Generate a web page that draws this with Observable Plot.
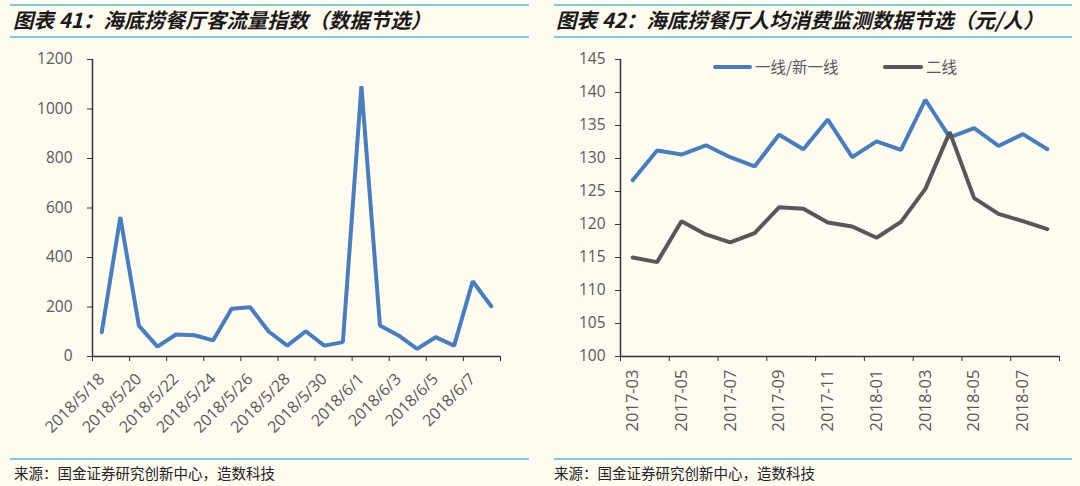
<!DOCTYPE html>
<html>
<head>
<meta charset="utf-8">
<script src="https://cdn.jsdelivr.net/npm/d3@7"></script>
<script src="https://cdn.jsdelivr.net/npm/@observablehq/plot@0.6"></script>
<style>
  html, body { margin: 0; padding: 0; background: #fffbf1; }
  #wrap { position: relative; width: 1080px; height: 486px; background: #fffbf1; overflow: hidden; font-family: "Noto Sans CJK SC", sans-serif; }
  .rule { position: absolute; height: 2px; background: #86c4d8; }
  .title { position: absolute; font-size: 20.5px; font-weight: bold; font-style: italic; color: #1a1a1a; white-space: nowrap; line-height: 1; }
  .src { position: absolute; font-size: 14.5px; color: #222; white-space: nowrap; line-height: 1; }
  .plot { position: absolute; top: 40px; }
  .leg { position: absolute; font-size: 15.5px; color: #595959; white-space: nowrap; line-height: 1; }
  .legline { position: absolute; height: 4px; border-radius: 2px; }
</style>
</head>
<body>
<div id="wrap">
  <div class="rule" style="left:10px;width:519px;top:4px"></div>
  <div class="rule" style="left:10px;width:519px;top:36px"></div>
  <div class="title" style="left:13px;top:9px">图表 41：海底捞餐厅客流量指数（数据节选）</div>
  <div class="rule" style="left:554px;width:518px;top:4px"></div>
  <div class="rule" style="left:554px;width:518px;top:36px"></div>
  <div class="title" style="left:556px;top:9px">图表 42：海底捞餐厅人均消费监测数据节选（元/人）</div>
  <div id="p1" class="plot" style="left:0px"></div>
  <div id="p2" class="plot" style="left:540px"></div>
  <div class="legline" style="left:713px;width:39px;top:65px;background:#4a7ebb"></div>
  <div class="leg" style="left:755px;top:59px">一线/新一线</div>
  <div class="legline" style="left:883px;width:40px;top:65px;background:#575757"></div>
  <div class="leg" style="left:926px;top:59px">二线</div>
  <div class="rule" style="left:10px;width:519px;top:458px"></div>
  <div class="src" style="left:14px;top:466px">来源：国金证券研究创新中心，造数科技</div>
  <div class="rule" style="left:554px;width:518px;top:458px"></div>
  <div class="src" style="left:554px;top:466px">来源：国金证券研究创新中心，造数科技</div>
</div>
<script>
// ---- Data: left chart (客流量指数) ----
const dates = ["2018/5/18","2018/5/19","2018/5/20","2018/5/21","2018/5/22","2018/5/23","2018/5/24","2018/5/25","2018/5/26","2018/5/27","2018/5/28","2018/5/29","2018/5/30","2018/5/31","2018/6/1","2018/6/2","2018/6/3","2018/6/4","2018/6/5","2018/6/6","2018/6/7","2018/6/8"];
const traffic = [98, 563, 125, 40, 89, 86, 65, 193, 199, 101, 44, 102, 44, 58, 1092, 125, 85, 31, 78, 44, 304, 203];
const leftYTicks = [0, 200, 400, 600, 800, 1000, 1200];

// ---- Data: right chart (人均消费) ----
const months = ["2017-03","2017-04","2017-05","2017-06","2017-07","2017-08","2017-09","2017-10","2017-11","2017-12","2018-01","2018-02","2018-03","2018-04","2018-05","2018-06","2018-07","2018-08"];
const tier1 = [126.7, 131.2, 130.6, 132.0, 130.2, 128.8, 133.6, 131.4, 135.9, 130.2, 132.6, 131.3, 138.9, 133.2, 134.6, 131.9, 133.7, 131.4];
const tier2 = [115.0, 114.3, 120.5, 118.5, 117.3, 118.7, 122.6, 122.4, 120.3, 119.7, 118.0, 120.4, 125.4, 134.0, 124.0, 121.6, 120.5, 119.3];
const rightYTicks = [100, 105, 110, 115, 120, 125, 130, 135, 140, 145];

const tickFont = "Open Sans, Liberation Sans, sans-serif";
const tickColor = "#595959";
const axisColor = "#333333";

const leftData = traffic.map((v, i) => ({i: i + 0.5, v}));
const p1 = Plot.plot({
  width: 540, height: 410,
  marginLeft: 92, marginRight: 40, marginTop: 19, marginBottom: 94,
  style: {background: "transparent", fontFamily: tickFont, fontSize: "15.5px", color: tickColor, overflow: "visible"},
  x: {domain: [0, dates.length], axis: null},
  y: {domain: [0, 1200], axis: null},
  marks: [
    Plot.axisY({ticks: leftYTicks, tickSize: 5, tickPadding: 15, tickFormat: d => String(d), stroke: axisColor, fill: tickColor, fontSize: 15.5, label: null}),
    Plot.axisX({ticks: d3.range(0, dates.length + 1, 2), tickSize: 5, tickFormat: () => "", stroke: axisColor, label: null}),
    Plot.axisX({ticks: d3.range(0.5, dates.length, 2), tickSize: 0, tickPadding: 20, tickRotate: -45,
      tickFormat: d => dates[Math.round(d - 0.5)], fill: tickColor, fontSize: 16, label: null}),
    Plot.ruleX([0], {stroke: axisColor, strokeWidth: 1.5}),
    Plot.ruleY([0], {stroke: axisColor, strokeWidth: 1.5}),
    Plot.line(leftData, {x: "i", y: "v", stroke: "#4a7ebb", strokeWidth: 4, strokeLinejoin: "miter", strokeLinecap: "round"})
  ]
});
document.getElementById("p1").appendChild(p1);

const rightData = [
  ...tier1.map((v, i) => ({i: i + 0.5, v, s: "一线/新一线"})),
  ...tier2.map((v, i) => ({i: i + 0.5, v, s: "二线"}))
];
const p2 = Plot.plot({
  width: 540, height: 410,
  marginLeft: 80, marginRight: 21, marginTop: 19, marginBottom: 94,
  style: {background: "transparent", fontFamily: tickFont, fontSize: "15.5px", color: tickColor, overflow: "visible"},
  x: {domain: [0, months.length], axis: null},
  y: {domain: [100, 145], axis: null},
  color: {domain: ["一线/新一线", "二线"], range: ["#4a7ebb", "#575757"]},
  marks: [
    Plot.axisY({ticks: rightYTicks, tickSize: 5, tickPadding: 10, tickFormat: d => String(d), stroke: axisColor, fill: tickColor, fontSize: 15.5, label: null}),
    Plot.axisX({ticks: d3.range(0, months.length + 1, 2), tickSize: 5, tickFormat: () => "", stroke: axisColor, label: null}),
    Plot.axisX({ticks: d3.range(0.5, months.length - 1, 2), tickSize: 0, tickPadding: 13, tickRotate: -90,
      tickFormat: d => months[Math.round(d - 0.5)], fill: tickColor, fontSize: 16.5, label: null}),
    Plot.ruleX([0], {stroke: axisColor, strokeWidth: 1.5}),
    Plot.ruleY([100], {stroke: axisColor, strokeWidth: 1.5}),
    Plot.line(rightData, {x: "i", y: "v", z: "s", stroke: "s", strokeWidth: 4, strokeLinejoin: "miter", strokeLinecap: "round"})
  ]
});
document.getElementById("p2").appendChild(p2);
</script>
</body>
</html>
